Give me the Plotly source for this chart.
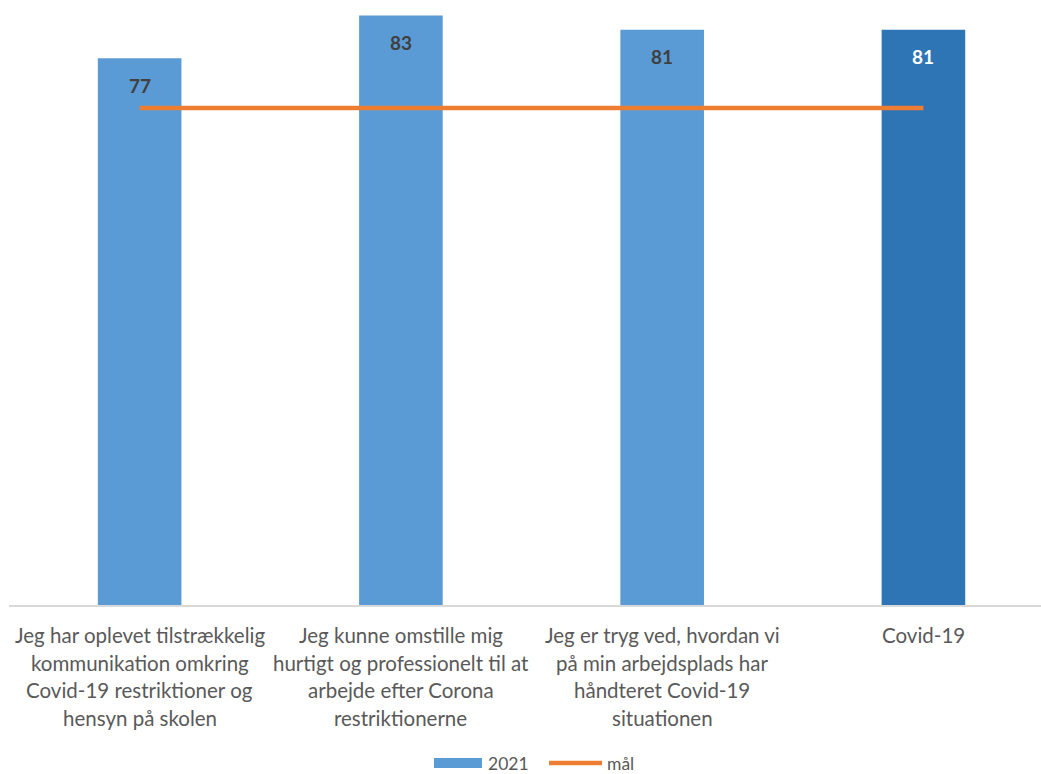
import plotly.graph_objects as go

# Survey items (x categories) and scores
categories = [
    "Jeg har oplevet tilstrækkelig<br>kommunikation omkring<br>Covid-19 restriktioner og<br>hensyn på skolen",
    "Jeg kunne omstille mig<br>hurtigt og professionelt til at<br>arbejde efter Corona<br>restriktionerne",
    "Jeg er tryg ved, hvordan vi<br>på min arbejdsplads har<br>håndteret Covid-19<br>situationen",
    "Covid-19",
]
values_2021 = [77, 83, 81, 81]
target = [70, 70, 70, 70]
series_names = ["2021", "mål"]

bar_colors = ["#5B9BD5", "#5B9BD5", "#5B9BD5", "#2E75B6"]
label_colors = ["#404040", "#404040", "#404040", "#FFFFFF"]
BLUE, ORANGE, GREY = "#5B9BD5", "#ED7D31", "#595959"
FONT = "Lato, Liberation Sans, sans-serif"

fig = go.Figure()
fig.add_trace(go.Bar(
    x=categories, y=values_2021, name=series_names[0],
    marker=dict(color=bar_colors, line=dict(width=0)),
    width=0.32, showlegend=False,
))
fig.add_trace(go.Scatter(
    x=categories, y=target, name=series_names[1], mode="lines",
    line=dict(color=ORANGE, width=4.5), showlegend=False,
))

annotations = []
# value labels inside the top of each bar
for c, v, col in zip(categories, values_2021, label_colors):
    annotations.append(dict(
        x=c, y=v, xref="x", yref="y", text=f"<b>{v}</b>", showarrow=False,
        yanchor="middle", yshift=-27, font=dict(family=FONT, size=19, color=col),
    ))
# category labels, one annotation per wrapped line
for c in categories:
    for i, line in enumerate(c.split("<br>")):
        annotations.append(dict(
            x=c, y=0, xref="x", yref="paper", text=line, showarrow=False,
            yanchor="middle", yshift=-30 - i * 27.6,
            font=dict(family=FONT, size=20.5, color=GREY),
        ))

# legend drawn below the plot: wide swatch + label for each series
LEG_Y = -0.2612
shapes = [
    dict(type="rect", xref="paper", yref="paper", x0=0.4118, x1=0.4583,
         y0=LEG_Y - 0.0083, y1=LEG_Y + 0.0083, fillcolor=BLUE, line=dict(width=0)),
    dict(type="line", xref="paper", yref="paper", x0=0.5233, x1=0.5746,
         y0=LEG_Y, y1=LEG_Y, line=dict(color=ORANGE, width=4.5)),
]
for name, x0 in zip(series_names, [0.4632, 0.5785]):
    annotations.append(dict(
        x=x0, y=LEG_Y, xref="paper", yref="paper", text=name, showarrow=False,
        xanchor="left", yanchor="middle", borderpad=0,
        font=dict(family=FONT, size=17.5, color=GREY),
    ))

fig.update_layout(
    width=1041, height=774,
    margin=dict(l=9, r=0, t=0, b=169),
    plot_bgcolor="white", paper_bgcolor="white",
    font=dict(family=FONT, size=16, color=GREY),
    showlegend=False,
    annotations=annotations,
    shapes=shapes,
    xaxis=dict(type="category", range=[-0.5, 3.45], showticklabels=False,
               showline=True, linecolor="#D9D9D9", linewidth=1.5, ticks="",
               showgrid=False, zeroline=False),
    yaxis=dict(range=[0, 85.2], visible=False, showgrid=False, zeroline=False),
)

fig.write_html("out.html")
